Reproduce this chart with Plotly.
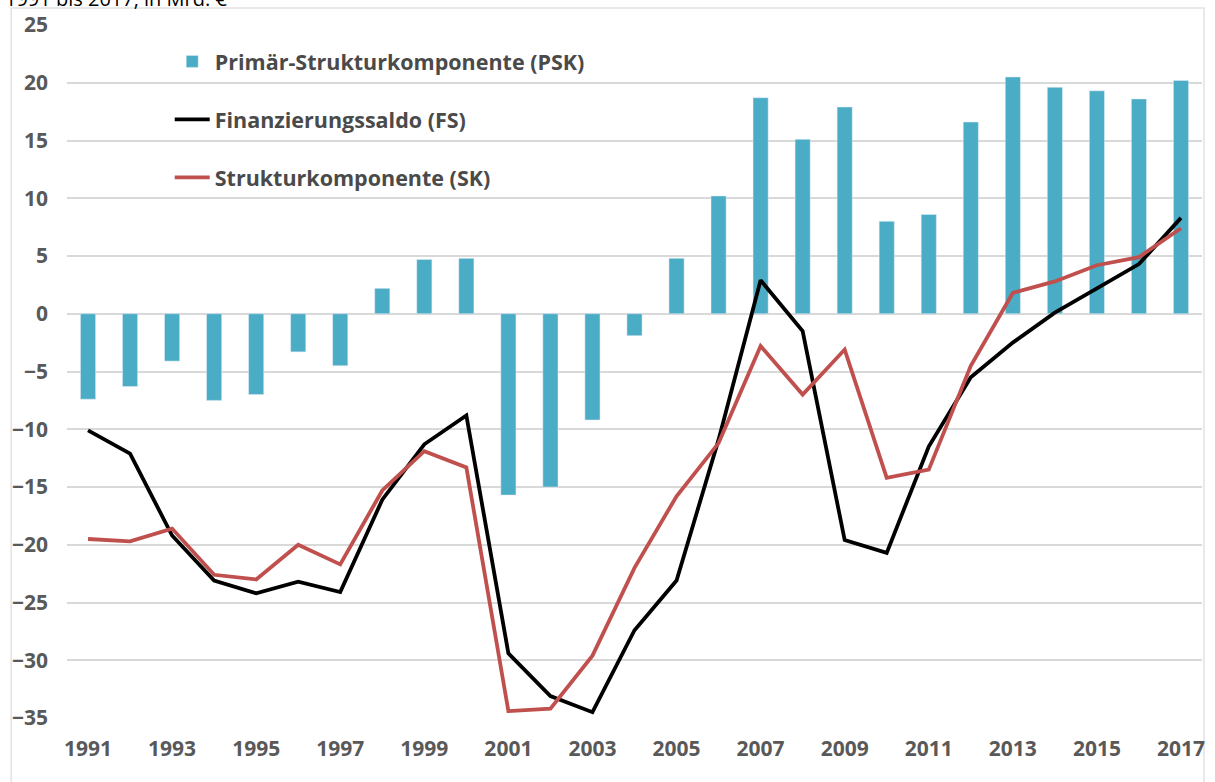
import plotly.graph_objects as go

years = list(range(1991, 2018))
psk = [-7.4, -6.3, -4.1, -7.5, -7.0, -3.3, -4.5, 2.2, 4.7, 4.8,
       -15.7, -15.0, -9.2, -1.9, 4.8, 10.2, 18.7, 15.1, 17.9, 8.0,
       8.6, 16.6, 20.5, 19.6, 19.3, 18.6, 20.2]
fs = [-10.1, -12.1, -19.2, -23.1, -24.2, -23.2, -24.1, -16.1, -11.3, -8.8,
      -29.4, -33.1, -34.5, -27.4, -23.1, -10.9, 2.9, -1.5, -19.6, -20.7,
      -11.5, -5.5, -2.5, 0.1, 2.2, 4.3, 8.3]
sk = [-19.5, -19.7, -18.6, -22.6, -23.0, -20.0, -21.7, -15.3, -11.9, -13.3,
      -34.4, -34.2, -29.6, -22.0, -15.8, -11.2, -2.8, -7.0, -3.1, -14.2,
      -13.5, -4.5, 1.8, 2.8, 4.2, 4.9, 7.4]
names = ["Primär-Strukturkomponente (PSK)", "Finanzierungssaldo (FS)", "Strukturkomponente (SK)"]
x_ticks = list(range(1991, 2018, 2))
y_ticks = list(range(-35, 30, 5))

FONT = "Open Sans"
fig = go.Figure()
fig.add_trace(go.Bar(x=years, y=psk, name=names[0], marker_color="#4BACC6",
                     width=0.36, legendgroup="a"))
fig.add_trace(go.Scatter(x=years, y=fs, name=names[1], mode="lines",
                         line=dict(color="#000000", width=3.8), legendgroup="b"))
fig.add_trace(go.Scatter(x=years, y=sk, name=names[2], mode="lines",
                         line=dict(color="#C0504D", width=3.8), legendgroup="c"))

fig.update_layout(
    width=1215, height=782,
    margin=dict(l=67, r=10, t=25, b=64),
    paper_bgcolor="white", plot_bgcolor="white",
    font=dict(family=FONT),
    showlegend=True,
    legend=dict(x=0.0905, y=0.977, xanchor="left", yanchor="top",
                bgcolor="rgba(0,0,0,0)", tracegroupgap=27, itemwidth=35,
                font=dict(family=FONT, size=21.5, color="#4A4A4A", weight="bold"),
                traceorder="grouped"),
    xaxis=dict(range=[1990.5, 2017.5], tickvals=x_ticks, ticktext=[str(v) for v in x_ticks],
               showgrid=False, zeroline=False, showline=False, ticks="",
               ticklabelstandoff=16,
               tickfont=dict(family=FONT, size=21, color="#595959", weight="bold")),
    yaxis=dict(range=[-35, 25], tickvals=y_ticks, showgrid=True, gridcolor="#D9D9D9",
               gridwidth=1.5, zeroline=True, zerolinecolor="#D9D9D9", zerolinewidth=1.5,
               showline=False, ticks="", ticklabelstandoff=18,
               tickfont=dict(family=FONT, size=21, color="#595959", weight="bold")),
)

# outer chart frame
fig.add_shape(type="rect", xref="paper", yref="paper",
              x0=-56/1138, x1=1.0 + 2/1138, y0=-0.2, y1=1 + 17/693,
              line=dict(color="#E3E3E3", width=1.5), fillcolor="rgba(0,0,0,0)", layer="below")

# cut-off subtitle at the very top (it is cropped in the original image as well)
fig.add_annotation(text="1991 bis 2017, in Mrd. €", xref="paper", yref="paper",
                   x=-64/1138, y=1 + 11/693, xanchor="left", yanchor="bottom",
                   showarrow=False, font=dict(family=FONT, size=20, color="#000000"))

fig.write_html("out.html", config={"displayModeBar": False},
               post_script="document.body.style.margin='0';document.body.style.padding='0';")
